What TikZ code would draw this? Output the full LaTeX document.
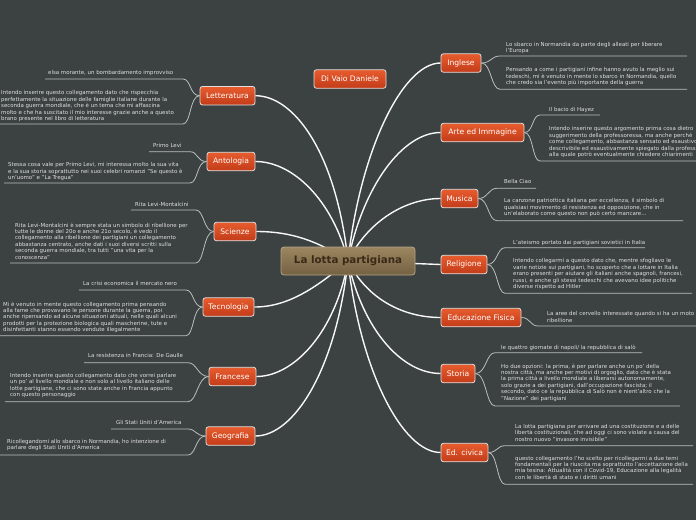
\documentclass[tikz,border=0pt]{standalone}
\usepackage{fontspec}
\setmainfont{DejaVu Sans}
\usetikzlibrary{calc}
\pgfdeclarelayer{background}
\pgfsetlayers{background,main}
\definecolor{bgcol}{RGB}{60,65,66}
\definecolor{orT}{RGB}{232,92,46}
\definecolor{orB}{RGB}{194,60,25}
\definecolor{ceT}{RGB}{156,134,96}
\definecolor{ceB}{RGB}{116,97,66}
\definecolor{ceText}{RGB}{58,40,24}
\definecolor{subtext}{RGB}{224,224,224}
\definecolor{sublinecol}{RGB}{186,190,190}
\tikzset{
  topicbox/.style={draw=white!88!black, line width=0.8pt, rounded corners=2.5pt,
    top color=orT, bottom color=orB, text=white, inner sep=0pt,
    font=\fontsize{7.6}{8}\selectfont, minimum height=18.5pt},
  centralbox/.style={draw=ceT!75!white, line width=0.8pt, rounded corners=3pt,
    top color=ceT, bottom color=ceB, text=ceText, inner sep=0pt,
    font=\bfseries\fontsize{10.3}{12}\selectfont, minimum width=134pt, minimum height=28pt},
  branchline/.style={draw=white!97!black, line width=1.4pt},
  subline/.style={draw=sublinecol, line width=0.8pt},
  notetext/.style={anchor=north west, inner sep=0pt, text=subtext, align=left,
    font=\fontsize{5.45}{6.4}\selectfont},
}
\begin{document}
\begin{tikzpicture}[x=1pt,y=-1pt]
\useasboundingbox (0,0) rectangle (696,520);
\begin{pgfonlayer}{background}
\fill[bgcol] (0,0) rectangle (696,520);
\end{pgfonlayer}
\clip (0,0) rectangle (696,520);

% central and topics
\node[centralbox] (central) at (348,261) {La lotta partigiana};
\node[topicbox, minimum width=72pt] (vaio) at (350,79) {Di Vaio Daniele};

\node[topicbox, minimum width=55pt] (let) at (227.5,95.7) {Letteratura};
\node[topicbox, minimum width=48pt] (ant) at (231,161.5) {Antologia};
\node[topicbox, minimum width=42pt] (sci) at (235,231.5) {Scienze};
\node[topicbox, minimum width=51pt] (tec) at (228.5,307) {Tecnologia};
\node[topicbox, minimum width=47pt] (fra) at (232.5,376.5) {Francese};
\node[topicbox, minimum width=49pt] (geo) at (230.5,436) {Geografia};

\node[topicbox, minimum width=40pt] (ing) at (461,63) {Inglese};
\node[topicbox, minimum width=83pt] (arte) at (482.5,132.5) {Arte ed Immagine};
\node[topicbox, minimum width=37pt] (mus) at (459.5,198.5) {Musica};
\node[topicbox, minimum width=46pt] (rel) at (464,264.5) {Religione};
\node[topicbox, minimum width=80pt] (edf) at (481,317.5) {Educazione Fisica};
\node[topicbox, minimum width=34pt] (sto) at (458,373.5) {Storia};
\node[topicbox, minimum width=47pt] (edc) at (464.5,452.5) {Ed. civica};

% main branches
\begin{pgfonlayer}{background}
\draw[branchline] (central.center) .. controls ($(central.center)+(-12,-110)$) and ($(let.east)+(38,0)$) .. (let.east);
\draw[branchline] (central.center) .. controls ($(central.center)+(-15,-60)$) and ($(ant.east)+(38,0)$) .. (ant.east);
\draw[branchline] (central.center) .. controls ($(central.center)+(-30,-20)$) and ($(sci.east)+(35,0)$) .. (sci.east);
\draw[branchline] (central.center) .. controls ($(central.center)+(-30,25)$) and ($(tec.east)+(35,0)$) .. (tec.east);
\draw[branchline] (central.center) .. controls ($(central.center)+(-12,70)$) and ($(fra.east)+(38,0)$) .. (fra.east);
\draw[branchline] (central.center) .. controls ($(central.center)+(-12,110)$) and ($(geo.east)+(38,0)$) .. (geo.east);
\draw[branchline] (central.center) .. controls ($(central.center)+(12,-110)$) and ($(ing.west)+(-38,0)$) .. (ing.west);
\draw[branchline] (central.center) .. controls ($(central.center)+(15,-75)$) and ($(arte.west)+(-38,0)$) .. (arte.west);
\draw[branchline] (central.center) .. controls ($(central.center)+(20,-40)$) and ($(mus.west)+(-35,0)$) .. (mus.west);
\draw[branchline] (central.center) -- (rel.west);
\draw[branchline] (central.center) .. controls ($(central.center)+(20,40)$) and ($(edf.west)+(-35,0)$) .. (edf.west);
\draw[branchline] (central.center) .. controls ($(central.center)+(15,70)$) and ($(sto.west)+(-38,0)$) .. (sto.west);
\draw[branchline] (central.center) .. controls ($(central.center)+(12,110)$) and ($(edc.west)+(-38,0)$) .. (edc.west);
\end{pgfonlayer}

% ---------- left sub-branches ----------
% Letteratura
\coordinate (l1a) at (183,79);   \coordinate (l1b) at (45,79);
\coordinate (l2a) at (183,124);  \coordinate (l2b) at (0,124);
\draw[subline] (let.west) .. controls ($(let.west)+(-10,0)$) and ($(l1a)+(8,0)$) .. (l1a) -- (l1b);
\draw[subline] (let.west) .. controls ($(let.west)+(-10,0)$) and ($(l2a)+(8,0)$) .. (l2a) -- (l2b);
\node[notetext] (tl1) at (48,70.5) {elsa morante, un bombardamento improvviso};
\node[notetext] (tl2) at (1,90.5) {Intendo inserire questo collegamento dato che rispecchia\\perfettamente la situazione delle famiglie italiane durante la\\seconda guerra mondiale, che è un tema che mi affascina\\molto e che ha suscitato il mio interesse grazie anche a questo\\brano presente nel libro di letteratura};
% Antologia
\coordinate (a1a) at (190,151.7); \coordinate (a1b) at (149,151.7);
\coordinate (a2a) at (190,183);   \coordinate (a2b) at (4,183);
\draw[subline] (ant.west) .. controls ($(ant.west)+(-10,0)$) and ($(a1a)+(8,0)$) .. (a1a) -- (a1b);
\draw[subline] (ant.west) .. controls ($(ant.west)+(-10,0)$) and ($(a2a)+(8,0)$) .. (a2a) -- (a2b);
\node[notetext] (ta1) at (153,143) {Primo Levi};
\node[notetext] (ta2) at (8,162.5) {Stessa cosa vale per Primo Levi, mi interessa molto la sua vita\\e la sua storia soprattutto nei suoi celebri romanzi "Se questo è\\un'uomo" e "La Tregua"};
% Scienze
\coordinate (s1a) at (196,210); \coordinate (s1b) at (131,210);
\coordinate (s2a) at (196,263); \coordinate (s2b) at (10,263);
\draw[subline] (sci.west) .. controls ($(sci.west)+(-10,0)$) and ($(s1a)+(8,0)$) .. (s1a) -- (s1b);
\draw[subline] (sci.west) .. controls ($(sci.west)+(-10,0)$) and ($(s2a)+(8,0)$) .. (s2a) -- (s2b);
\node[notetext] (ts1) at (135,202.5) {Rita Levi-Montalcini};
\node[notetext] (ts2) at (15,222.5) {Rita Levi-Montalcini è sempre stata un simbolo di ribellione per\\tutte le donne del 20o e anche 21o secolo, è vedo il\\collegamento alla ribellione dei partigiani un collegamento\\abbastanza centrato, anche dati i suoi diversi scritti sulla\\seconda guerra mondiale, tra tutti "una vita per la\\conoscenza"};
% Tecnologia
\coordinate (t1a) at (186,290);   \coordinate (t1b) at (79,290);
\coordinate (t2a) at (186,335.7); \coordinate (t2b) at (0,335.7);
\draw[subline] (tec.west) .. controls ($(tec.west)+(-10,0)$) and ($(t1a)+(8,0)$) .. (t1a) -- (t1b);
\draw[subline] (tec.west) .. controls ($(tec.west)+(-10,0)$) and ($(t2a)+(8,0)$) .. (t2a) -- (t2b);
\node[notetext] (tt1) at (83,281.5) {La crisi economica il mercato nero};
\node[notetext] (tt2) at (3,301.5) {Mi è venuto in mente questo collegamento prima pensando\\alla fame che provavano le persone durante la guerra, poi\\anche ripensando ad alcune situazioni attuali, nelle quali alcuni\\prodotti per la protezione biologica quali mascherine, tute e\\disinfettanti stanno essendo vendute illegalmente};
% Francese
\coordinate (f1a) at (188,362.7); \coordinate (f1b) at (84,362.7);
\coordinate (f2a) at (188,401.7); \coordinate (f2b) at (5,401.7);
\draw[subline] (fra.west) .. controls ($(fra.west)+(-11,0)$) and ($(f1a)+(9,0)$) .. (f1a) -- (f1b);
\draw[subline] (fra.west) .. controls ($(fra.west)+(-11,0)$) and ($(f2a)+(9,0)$) .. (f2a) -- (f2b);
\node[notetext] (tf1) at (88,353.5) {La resistenza in Francia: De Gaulle};
\node[notetext] (tf2) at (10,373.2) {Intendo inserire questo collegamento dato che vorrei parlare\\un po' al livello mondiale e non solo al livello italiano delle\\lotte partigiane, che ci sono state anche in Francia appunto\\con questo personaggio};
% Geografia
\coordinate (g1a) at (188,429); \coordinate (g1b) at (111,429);
\coordinate (g2a) at (188,455); \coordinate (g2b) at (0,455);
\draw[subline] (geo.west) .. controls ($(geo.west)+(-10,0)$) and ($(g1a)+(8,0)$) .. (g1a) -- (g1b);
\draw[subline] (geo.west) .. controls ($(geo.west)+(-10,0)$) and ($(g2a)+(8,0)$) .. (g2a) -- (g2b);
\node[notetext] (tg1) at (116,420.2) {Gli Stati Uniti d'America};
\node[notetext] (tg2) at (7,439.2) {Ricollegandomi allo sbarco in Normandia, ho intenzione di\\parlare degli Stati Uniti d'America};

% ---------- right sub-branches ----------
% Inglese
\coordinate (i1a) at (500,56);   \coordinate (i1b) at (687,56);
\coordinate (i2a) at (500,89.3); \coordinate (i2b) at (687,89.3);
\draw[subline] (ing.east) .. controls ($(ing.east)+(10,0)$) and ($(i1a)+(-9,0)$) .. (i1a) -- (i1b);
\draw[subline] (ing.east) .. controls ($(ing.east)+(10,0)$) and ($(i2a)+(-9,0)$) .. (i2a) -- (i2b);
\node[notetext] (ti1) at (506,41.8) {Lo sbarco in Normandia da parte degli alleati per liberare\\l'Europa};
\node[notetext] (ti2) at (506,67.5) {Pensando a come i partigiani infine hanno avuto la meglio sui\\tedeschi, mi è venuto in mente lo sbarco in Normandia, quello\\che credo sia l'evento più importante della guerra};
% Arte ed Immagine
\coordinate (r1a) at (540,115); \coordinate (r1b) at (600,115);
\coordinate (r2a) at (540,161); \coordinate (r2b) at (700,161);
\draw[subline] (arte.east) .. controls ($(arte.east)+(9,0)$) and ($(r1a)+(-8,0)$) .. (r1a) -- (r1b);
\draw[subline] (arte.east) .. controls ($(arte.east)+(9,0)$) and ($(r2a)+(-8,0)$) .. (r2a) -- (r2b);
\node[notetext] (tr1) at (549,107.5) {Il bacio di Hayez};
\node[notetext] (tr2) at (549,126.5) {Intendo inserire questo argomento prima cosa dietro\\suggerimento della professoressa, ma anche perchè\\come collegamento, abbastanza sensato ed esaustivo\\descrivibile ed esaustivamente spiegato dalla professoressa\\alla quale potrò eventualmente chiedere chiarimenti};
% Musica
\coordinate (m1a) at (497,188.3); \coordinate (m1b) at (536,188.3);
\coordinate (m2a) at (497,220.7); \coordinate (m2b) at (683,220.7);
\draw[subline] (mus.east) .. controls ($(mus.east)+(10,0)$) and ($(m1a)+(-9,0)$) .. (m1a) -- (m1b);
\draw[subline] (mus.east) .. controls ($(mus.east)+(10,0)$) and ($(m2a)+(-9,0)$) .. (m2a) -- (m2b);
\node[notetext] (tm1) at (504,179.2) {Bella Ciao};
\node[notetext] (tm2) at (504,198.5) {La canzone patriottica italiana per eccellenza, il simbolo di\\qualsiasi movimento di resistenza ed opposizione, che in\\un'elaborato come questo non può certo mancare...};
% Religione
\coordinate (e1a) at (505,247.7); \coordinate (e1b) at (645,247.7);
\coordinate (e2a) at (505,293.3); \coordinate (e2b) at (692,293.3);
\draw[subline] (rel.east) .. controls ($(rel.east)+(10,0)$) and ($(e1a)+(-8,0)$) .. (e1a) -- (e1b);
\draw[subline] (rel.east) .. controls ($(rel.east)+(10,0)$) and ($(e2a)+(-8,0)$) .. (e2a) -- (e2b);
\node[notetext] (te1) at (513,239.8) {L'ateismo portato dai partigiani sovietici in Italia};
\node[notetext] (te2) at (513,258.5) {Intendo collegarmi a questo dato che, mentre sfogliavo le\\varie notizie sui partigiani, ho scoperto che a lottare in Italia\\erano presenti per aiutare gli italiani anche spagnoli, francesi,\\russi, e anche gli stessi tedeschi che avevano idee politiche\\diverse rispetto ad Hitler};
% Educazione Fisica
\coordinate (p1a) at (538,326); \coordinate (p1b) at (700,326);
\draw[subline] (edf.east) .. controls ($(edf.east)+(9,0)$) and ($(p1a)+(-8,0)$) .. (p1a) -- (p1b);
\node[notetext] (tp1) at (547,311.5) {La aree del cervello interessate quando si ha un moto di\\ribellione};
% Storia
\coordinate (o1a) at (495,352.7); \coordinate (o1b) at (642,352.7);
\coordinate (o2a) at (495,406);   \coordinate (o2b) at (680,406);
\draw[subline] (sto.east) .. controls ($(sto.east)+(11,0)$) and ($(o1a)+(-9,0)$) .. (o1a) -- (o1b);
\draw[subline] (sto.east) .. controls ($(sto.east)+(11,0)$) and ($(o2a)+(-9,0)$) .. (o2a) -- (o2b);
\node[notetext] (to1) at (501,345.2) {le quattro giornate di napoli/ la repubblica di salò};
\node[notetext] (to2) at (501,363.5) {Ho due opzioni: la prima, è per parlare anche un po' della\\nostra città, ma anche per motivi di orgoglio, dato che è stata\\la prima città a livello mondiale a liberarsi autonomamente,\\solo grazie a dei partigiani, dall'occupazione fascista; il\\secondo, dato ce la repubblica di Salò non è nient'altro che la\\"Nazione" dei partigiani};
% Ed. civica
\coordinate (c1a) at (505,445.7); \coordinate (c1b) at (693,445.7);
\coordinate (c2a) at (505,484.3); \coordinate (c2b) at (693,484.3);
\draw[subline] (edc.east) .. controls ($(edc.east)+(9,0)$) and ($(c1a)+(-8,0)$) .. (c1a) -- (c1b);
\draw[subline] (edc.east) .. controls ($(edc.east)+(9,0)$) and ($(c2a)+(-8,0)$) .. (c2a) -- (c2b);
\node[notetext] (tc1) at (515,424.2) {La lotta partigiana per arrivare ad una costituzione e a delle\\libertà costituzionali, che ad oggi ci sono violate a causa del\\nostro nuovo "invasore invisibile"};
\node[notetext] (tc2) at (515,455.8) {questo collegamento l'ho scelto per ricollegarmi a due temi\\fondamentali per la riuscita ma soprattutto l'accettazione della\\mia tesina: Attualità con il Covid-19, Educazione alla legalità\\con le libertà di stato e i diritti umani};
\end{tikzpicture}
\end{document}
